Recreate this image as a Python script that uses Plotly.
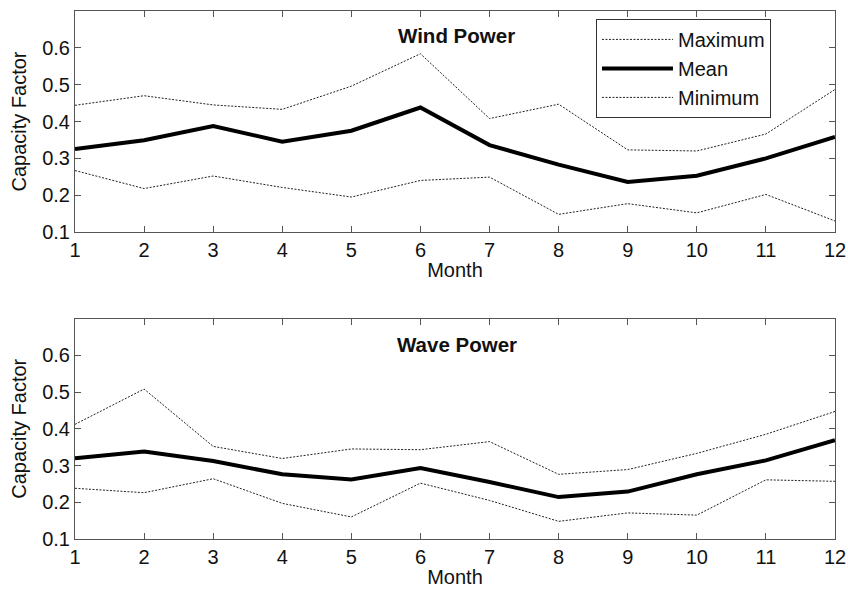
import plotly.graph_objects as go
from plotly.subplots import make_subplots

months = list(range(1, 13))

wind_max = [0.444, 0.470, 0.445, 0.433, 0.496, 0.584, 0.408, 0.447, 0.323, 0.320, 0.366, 0.487]
wind_mean = [0.325, 0.349, 0.388, 0.345, 0.375, 0.438, 0.336, 0.283, 0.236, 0.253, 0.300, 0.358]
wind_min = [0.267, 0.218, 0.252, 0.221, 0.195, 0.240, 0.249, 0.148, 0.177, 0.152, 0.202, 0.130]

wave_max = [0.412, 0.508, 0.352, 0.319, 0.345, 0.343, 0.365, 0.276, 0.289, 0.333, 0.385, 0.447]
wave_mean = [0.320, 0.338, 0.312, 0.276, 0.262, 0.293, 0.255, 0.214, 0.229, 0.276, 0.314, 0.369]
wave_min = [0.238, 0.226, 0.264, 0.197, 0.160, 0.252, 0.205, 0.148, 0.171, 0.165, 0.261, 0.257]

panel_titles = ["Wind Power", "Wave Power"]
y_ticks = [0.1, 0.2, 0.3, 0.4, 0.5, 0.6]
y_tick_labels = ["0.1", "0.2", "0.3", "0.4", "0.5", "0.6"]

FONT = "Liberation Sans, Arial, sans-serif"
AXCOL = "#555555"
TXT = "#111111"

fig = make_subplots(rows=2, cols=1, vertical_spacing=0.16)

dot_line = dict(color="#222222", width=1, dash="2px,1.5px")
mean_line = dict(color="black", width=4)

for row, (mx, mn, mi) in enumerate([(wind_max, wind_mean, wind_min),
                                     (wave_max, wave_mean, wave_min)], start=1):
    show = row == 1
    fig.add_trace(go.Scatter(x=months, y=mx, mode="lines", name="Maximum",
                             line=dot_line, showlegend=show), row=row, col=1)
    fig.add_trace(go.Scatter(x=months, y=mn, mode="lines", name="Mean",
                             line=mean_line, showlegend=show), row=row, col=1)
    fig.add_trace(go.Scatter(x=months, y=mi, mode="lines", name="Minimum",
                             line=dot_line, showlegend=show), row=row, col=1)

axis_common = dict(showline=True, linecolor=AXCOL, linewidth=1, mirror="allticks",
                   ticks="inside", ticklen=6, tickcolor=AXCOL, showgrid=False,
                   zeroline=False, automargin=False,
                   tickfont=dict(family=FONT, size=20, color=TXT))

for row in (1, 2):
    fig.update_xaxes(range=[1, 12], tickvals=months, ticktext=[str(m) for m in months],
                     title=dict(text="Month", font=dict(family=FONT, size=20, color=TXT),
                                standoff=2),
                     row=row, col=1, **axis_common)
    fig.update_yaxes(range=[0.1, 0.7], tickvals=y_ticks + [0.7],
                     ticktext=y_tick_labels + [""],
                     title=dict(text="Capacity Factor", font=dict(family=FONT, size=20, color=TXT),
                                standoff=10),
                     row=row, col=1, **axis_common)

fig.update_layout(
    width=848, height=592,
    margin=dict(l=75, r=13, t=11, b=53, autoexpand=False),
    paper_bgcolor="white", plot_bgcolor="white",
    font=dict(family=FONT, size=20, color=TXT),
    xaxis=dict(domain=[0, 1]),
    yaxis=dict(domain=[0.5814, 1]),
    xaxis2=dict(domain=[0, 1]),
    yaxis2=dict(domain=[0, 0.4176]),
    legend=dict(x=0.6855, y=0.985, xanchor="left", yanchor="top",
                bordercolor="#333333", borderwidth=1, bgcolor="white",
                font=dict(family=FONT, size=20, color=TXT),
                itemwidth=71, tracegroupgap=0),
)

for i, title in enumerate(panel_titles):
    sfx = "" if i == 0 else "2"
    fig.add_annotation(text="<b>" + title + "</b>", xref="x" + sfx + " domain",
                       yref="y" + sfx + " domain",
                       x=0.502, y=0.891 if i == 0 else 0.88, showarrow=False,
                       xanchor="center", yanchor="middle",
                       font=dict(family=FONT, size=20.5, color=TXT))

fig.write_html("out.html")
